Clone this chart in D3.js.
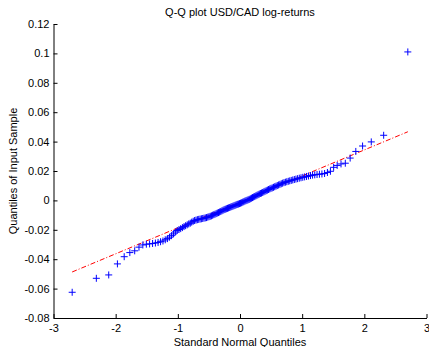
<!DOCTYPE html>
<html>
<head>
<meta charset="utf-8">
<script src="https://cdn.jsdelivr.net/npm/d3@7"></script>
<style>
  body { margin: 0; background: #fff; }
  svg { display: block; font-family: "Liberation Sans", Arial, sans-serif; }
  .axis text { font-size: 11px; fill: #000; }
  .axis path, .axis line { stroke: #000; }
</style>
</head>
<body>
<svg id="chart" width="429" height="347"></svg>
<script>
// 样本分位数（排序后）
const sampleQuantiles = [
  -0.0625, -0.0530, -0.0507, -0.0432, -0.0383, -0.0355, -0.0343, -0.0318, -0.0303, -0.0298,
  -0.0296, -0.0293, -0.0290, -0.0286, -0.0281, -0.0276, -0.0268, -0.0260, -0.0250, -0.0240,
  -0.0228, -0.0215, -0.0205, -0.0198, -0.0192, -0.0185, -0.0178, -0.0172, -0.0166, -0.0160,
  -0.0155, -0.0148, -0.0142, -0.0137, -0.0134, -0.0131, -0.0129, -0.0127, -0.0125, -0.0123,
  -0.0121, -0.0119, -0.0117, -0.0114, -0.0111, -0.0108, -0.0105, -0.0101, -0.0097, -0.0094,
  -0.0090, -0.0086, -0.0083, -0.0079, -0.0075, -0.0071, -0.0067, -0.0063, -0.0060, -0.0057,
  -0.0054, -0.0051, -0.0048, -0.0045, -0.0042, -0.0039, -0.0036, -0.0033, -0.0030, -0.0027,
  -0.0025, -0.0022, -0.0019, -0.0016, -0.0012, -0.0009, -0.0005, -0.0002, 0.0001, 0.0004,
  0.0007, 0.0011, 0.0015, 0.0019, 0.0023, 0.0027, 0.0031, 0.0035, 0.0039, 0.0043,
  0.0047, 0.0050, 0.0054, 0.0058, 0.0062, 0.0066, 0.0070, 0.0074, 0.0078, 0.0082,
  0.0085, 0.0089, 0.0093, 0.0097, 0.0101, 0.0105, 0.0109, 0.0113, 0.0117, 0.0121,
  0.0124, 0.0127, 0.0130, 0.0133, 0.0136, 0.0139, 0.0142, 0.0145, 0.0148, 0.0151,
  0.0154, 0.0157, 0.0160, 0.0163, 0.0166, 0.0169, 0.0172, 0.0174, 0.0176, 0.0178,
  0.0180, 0.0183, 0.0190, 0.0198, 0.0225, 0.0238, 0.0248, 0.0253, 0.0288, 0.0333,
  0.0370, 0.0398, 0.0443, 0.1010
];

// 参考线（四分位连线）端点
const refLineX = [-2.70, 2.70];
const refLineY = [-0.0487, 0.0467];

// 坐标轴刻度
const xTicks = [-3, -2, -1, 0, 1, 2, 3];
const yTicks = [-0.08, -0.06, -0.04, -0.02, 0, 0.02, 0.04, 0.06, 0.08, 0.1, 0.12];

const svg = d3.select('#chart');
const x = d3.scaleLinear().domain([-3, 3]).range([53.5, 426.5]);
const y = d3.scaleLinear().domain([-0.08, 0.12]).range([318, 24]);

// 标准正态分位数的近似 (Acklam)
function normInv(p) {
  const a = [-3.969683028665376e+01, 2.209460984245205e+02, -2.759285104469687e+02, 1.383577518672690e+02, -3.066479806614716e+01, 2.506628277459239e+00];
  const b = [-5.447609879822406e+01, 1.615858368580409e+02, -1.556989798598866e+02, 6.680131188771972e+01, -1.328068155288572e+01];
  const c = [-7.784894002430293e-03, -3.223964580411365e-01, -2.400758277161838e+00, -2.549732539343734e+00, 4.374664141464968e+00, 2.938163982698783e+00];
  const d = [7.784695709041462e-03, 3.224671290700398e-01, 2.445134137142996e+00, 3.754408661907416e+00];
  const pl = 0.02425;
  let q, r;
  if (p < pl) {
    q = Math.sqrt(-2 * Math.log(p));
    return (((((c[0]*q+c[1])*q+c[2])*q+c[3])*q+c[4])*q+c[5]) / ((((d[0]*q+d[1])*q+d[2])*q+d[3])*q+1);
  } else if (p <= 1 - pl) {
    q = p - 0.5; r = q * q;
    return (((((a[0]*r+a[1])*r+a[2])*r+a[3])*r+a[4])*r+a[5])*q / (((((b[0]*r+b[1])*r+b[2])*r+b[3])*r+b[4])*r+1);
  }
  q = Math.sqrt(-2 * Math.log(1 - p));
  return -(((((c[0]*q+c[1])*q+c[2])*q+c[3])*q+c[4])*q+c[5]) / ((((d[0]*q+d[1])*q+d[2])*q+d[3])*q+1);
}

// 横坐标：秩 (i-0.5)/n 对应的理论分位数
const n = sampleQuantiles.length;
const points = sampleQuantiles.map((v, i) => ({ q: normInv((i + 0.5) / n), v }));

const fmt = d => String(+d.toFixed(2));

// 坐标轴
svg.append('g')
  .attr('class', 'axis')
  .attr('transform', `translate(0,${y.range()[0]})`)
  .call(d3.axisBottom(x).tickValues(xTicks).tickFormat(fmt).tickSizeInner(-4).tickSizeOuter(0).tickPadding(6));

svg.append('g')
  .attr('class', 'axis')
  .attr('transform', `translate(${x.range()[0]},0)`)
  .call(d3.axisLeft(y).tickValues(yTicks).tickFormat(fmt).tickSizeInner(-4).tickSizeOuter(0).tickPadding(4));

// 参考线
svg.append('line')
  .attr('x1', x(refLineX[0])).attr('y1', y(refLineY[0]))
  .attr('x2', x(refLineX[1])).attr('y2', y(refLineY[1]))
  .attr('stroke', '#ff0000')
  .attr('stroke-width', 1)
  .attr('stroke-dasharray', '5,2,1,2');

// 数据点 '+'
const r = 3.5;
svg.append('g')
  .selectAll('path')
  .data(points)
  .join('path')
  .attr('d', d => {
    const px = x(d.q), py = y(d.v);
    return `M${px - r},${py}H${px + r}M${px},${py - r}V${py + r}`;
  })
  .attr('stroke', '#0000ff')
  .attr('stroke-width', 1)
  .attr('fill', 'none');

// 文本
svg.append('text')
  .attr('x', 240).attr('y', 16)
  .attr('text-anchor', 'middle')
  .attr('font-size', 11)
  .text('Q-Q plot USD/CAD log-returns');

svg.append('text')
  .attr('x', 240).attr('y', 346)
  .attr('text-anchor', 'middle')
  .attr('font-size', 11)
  .text('Standard Normal Quantiles');

svg.append('text')
  .attr('transform', 'translate(17,171) rotate(-90)')
  .attr('text-anchor', 'middle')
  .attr('font-size', 11)
  .text('Quantiles of Input Sample');
</script>
</body>
</html>
